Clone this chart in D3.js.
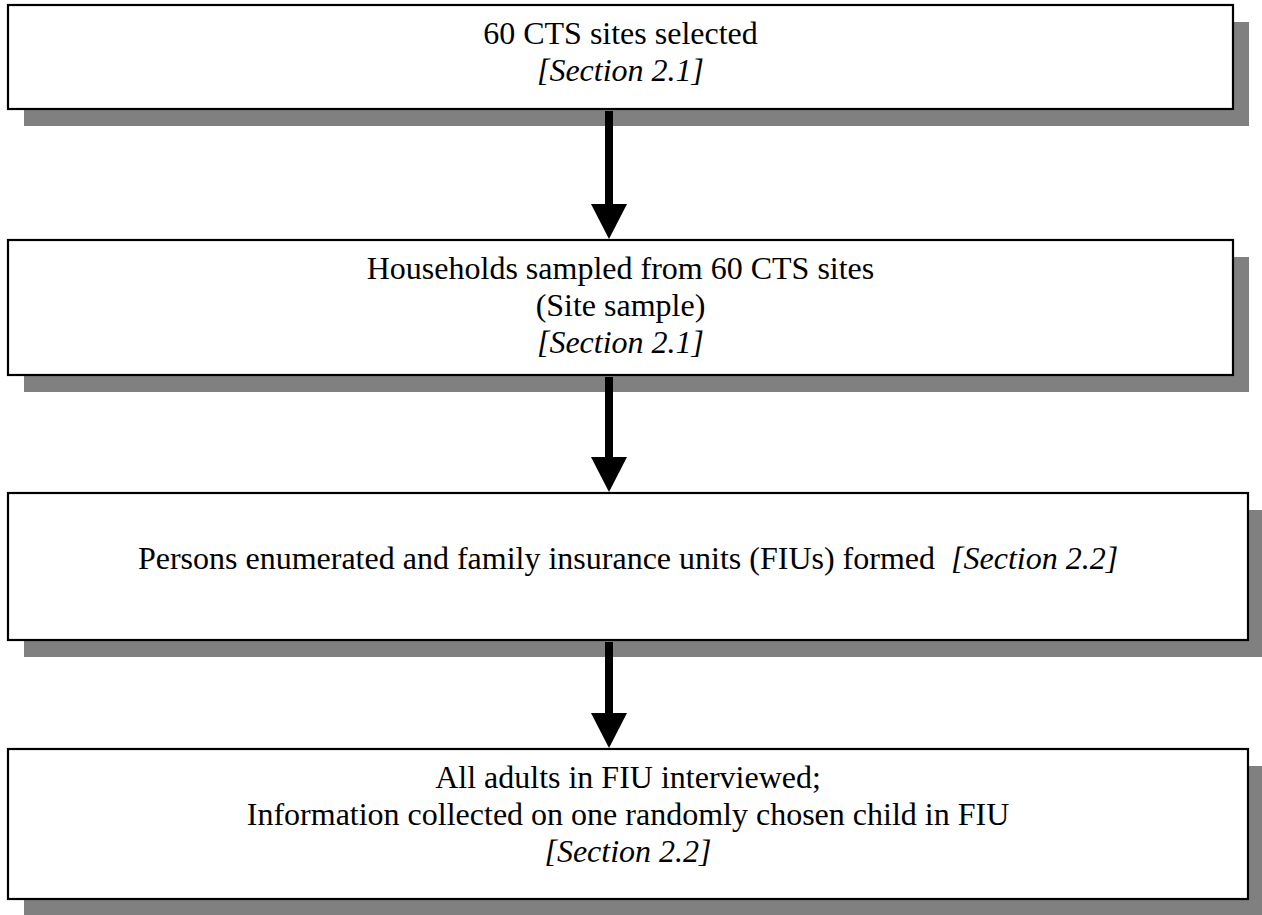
<!DOCTYPE html>
<html>
<head>
<meta charset="utf-8">
<script src="https://cdnjs.cloudflare.com/ajax/libs/d3/7.8.5/d3.min.js"></script>
<style>
	body { margin: 0; background: #fff; }
	svg text { white-space: pre; }
</style>
</head>
<body>
<div id="chart"></div>
<script>
// text of each step of the flow, one entry per line ("" = empty line)
var stepLines = [
	["60 CTS sites selected", "[Section 2.1]"],
	["Households sampled from 60 CTS sites", "(Site sample)", "[Section 2.1]"],
	["", "Persons enumerated and family insurance units (FIUs) formed  [Section 2.2]"],
	["All adults in FIU interviewed;", "Information collected on one randomly chosen child in FIU", "[Section 2.2]"]
];

// box frames, px
var boxLeft = [8, 8, 8, 8];
var boxRight = [1233, 1233, 1248, 1248];
var boxTop = [5, 240, 493, 749];
var boxBottom = [109, 375, 640, 899];

var W = 1262, H = 915;
var shadowDx = 16, shadowDy = 17;
var lineGap = 37;     // line spacing
var firstBase = 39;   // first baseline below box top
var arrowX = 609;
var shaftW = 8;
var headW = 36, headH = 35;

var svg = d3.select("#chart")
			.append("svg")
			.attr("width", W)
			.attr("height", H)
			.style("display", "block");

var steps = d3.range(stepLines.length);

// shadows first so the arrows and boxes sit on them
svg.selectAll("rect.shadow")
	.data(steps)
	.enter()
	.append("rect")
	.attr("class", "shadow")
	.attr("x", i => boxLeft[i] + shadowDx)
	.attr("y", i => boxTop[i] + shadowDy)
	.attr("width", i => boxRight[i] - boxLeft[i])
	.attr("height", i => boxBottom[i] - boxTop[i])
	.attr("fill", "#808080");

// arrows between consecutive boxes
var links = d3.range(stepLines.length - 1);
var arrows = svg.selectAll("g.arrow")
	.data(links)
	.enter()
	.append("g")
	.attr("class", "arrow");

arrows.append("rect")
	.attr("x", arrowX - shaftW / 2)
	.attr("y", i => boxBottom[i] + 2)
	.attr("width", shaftW)
	.attr("height", i => (boxTop[i + 1] - headH) - (boxBottom[i] + 2) + 1)
	.attr("fill", "#000");

arrows.append("path")
	.attr("d", function(i){
		var tip = boxTop[i + 1] - 1;
		return "M" + (arrowX - headW / 2) + "," + (tip - headH) +
			"L" + (arrowX + headW / 2) + "," + (tip - headH) +
			"L" + arrowX + "," + tip + "Z";
	})
	.attr("fill", "#000");

// boxes
svg.selectAll("rect.box")
	.data(steps)
	.enter()
	.append("rect")
	.attr("class", "box")
	.attr("x", i => boxLeft[i])
	.attr("y", i => boxTop[i])
	.attr("width", i => boxRight[i] - boxLeft[i])
	.attr("height", i => boxBottom[i] - boxTop[i])
	.attr("fill", "#fff")
	.attr("stroke", "#000")
	.attr("stroke-width", 2.2);

// labels, bracketed parts in italics
steps.forEach(function(i){
	var cx = (boxLeft[i] + boxRight[i]) / 2;
	stepLines[i].forEach(function(line, k){
		if (line === "") return;
		var t = svg.append("text")
			.attr("x", cx)
			.attr("y", boxTop[i] + firstBase + k * lineGap)
			.attr("text-anchor", "middle")
			.attr("font-family", "'Liberation Serif', 'Times New Roman', serif")
			.attr("font-size", 32)
			.attr("fill", "#000");
		line.split(/(\[[^\]]*\])/).forEach(function(part){
			if (part === "") return;
			t.append("tspan")
				.attr("font-style", part[0] === "[" ? "italic" : "normal")
				.text(part);
		});
	});
});
</script>
</body>
</html>
